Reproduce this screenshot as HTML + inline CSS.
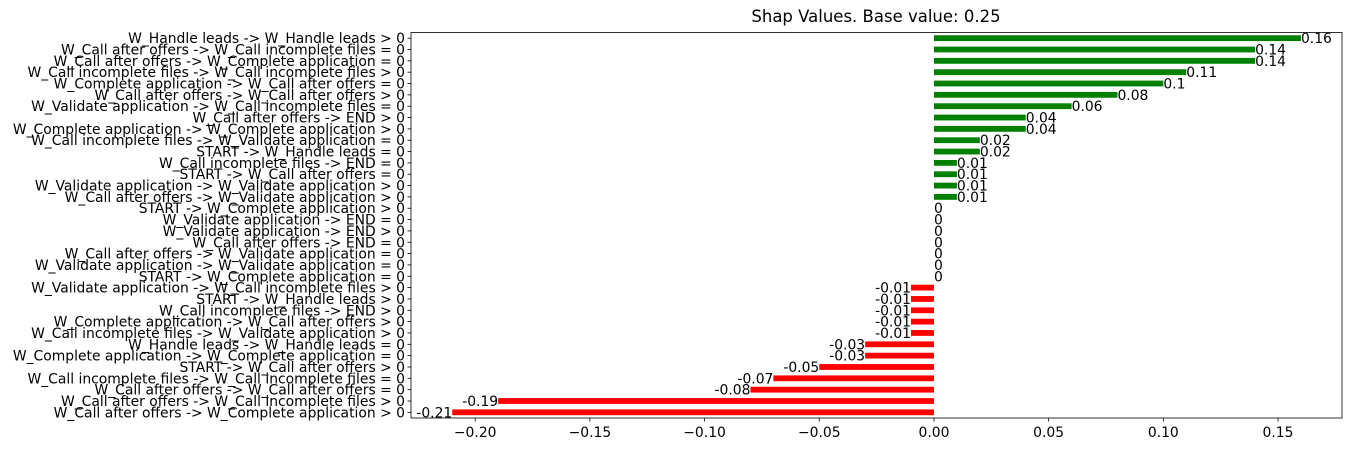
<!DOCTYPE html>
<html><head><meta charset="utf-8"><style>
body{margin:0;background:#fff;}
svg text{font-family:"DejaVu Sans","Liberation Sans",sans-serif;}
</style></head><body>
<svg id="chart" width="1352" height="451" xmlns="http://www.w3.org/2000/svg"></svg>
<script>
const labels=["W_Handle leads -> W_Handle leads > 0","W_Call after offers -> W_Call incomplete files = 0","W_Call after offers -> W_Complete application = 0","W_Call incomplete files -> W_Call incomplete files > 0","W_Complete application -> W_Call after offers = 0","W_Call after offers -> W_Call after offers > 0","W_Validate application -> W_Call incomplete files = 0","W_Call after offers -> END > 0","W_Complete application -> W_Complete application > 0","W_Call incomplete files -> W_Validate application = 0","START -> W_Handle leads = 0","W_Call incomplete files -> END = 0","START -> W_Call after offers = 0","W_Validate application -> W_Validate application > 0","W_Call after offers -> W_Validate application > 0","START -> W_Complete application > 0","W_Validate application -> END = 0","W_Validate application -> END > 0","W_Call after offers -> END = 0","W_Call after offers -> W_Validate application = 0","W_Validate application -> W_Validate application = 0","START -> W_Complete application = 0","W_Validate application -> W_Call incomplete files > 0","START -> W_Handle leads > 0","W_Call incomplete files -> END > 0","W_Complete application -> W_Call after offers > 0","W_Call incomplete files -> W_Validate application > 0","W_Handle leads -> W_Handle leads = 0","W_Complete application -> W_Complete application = 0","START -> W_Call after offers > 0","W_Call incomplete files -> W_Call incomplete files = 0","W_Call after offers -> W_Call after offers = 0","W_Call after offers -> W_Call incomplete files > 0","W_Call after offers -> W_Complete application > 0"];
const values=[0.16,0.14,0.14,0.11,0.1,0.08,0.06,0.04,0.04,0.02,0.02,0.01,0.01,0.01,0.01,0,0,0,0,0,0,0,-0.01,-0.01,-0.01,-0.01,-0.01,-0.03,-0.03,-0.05,-0.07,-0.08,-0.19,-0.21];
const ticks=[-0.2,-0.15,-0.1,-0.05,0,0.05,0.1,0.15];
const tickLabels=["−0.20","−0.15","−0.10","−0.05","0.00","0.05","0.10","0.15"];
const svg=document.getElementById('chart');
const NS="http://www.w3.org/2000/svg";
const L=411,R=1342,T=32.5,B=418;
const xMin=-0.228,xMax=0.1779;
const x=v=>L+(v-xMin)/(xMax-xMin)*(R-L);
const slot=(B-T)/labels.length;
const y=i=>T+slot*(i+0.5);
function mk(tag,attrs,txt){const e=document.createElementNS(NS,tag);for(const k in attrs)e.setAttribute(k,attrs[k]);if(txt!==undefined)e.textContent=txt;svg.appendChild(e);return e;}
let t=mk('text',{x:876,y:22,'font-size':16.5,'text-anchor':'middle'},'Shap Values. Base value: 0.25');


values.forEach((v,i)=>{
  const x0=x(0),x1=x(v);
  const r=mk('rect',{x:Math.min(x0,x1),y:y(i)-2.9,width:Math.abs(x1-x0),height:5.8,fill:v>=0?'#008000':'#ff0000'});
  
  
  const vl=mk('text',{x:x1,y:y(i)+5,'font-size':13.9,'text-anchor':v>=0?'start':'end'},String(v));
  
  
  const yl=mk('text',{x:L-6,y:y(i)+5,'font-size':13.9,'text-anchor':'end'},labels[i]);
  
  
  mk('line',{x1:L-3.5,x2:L,y1:y(i),y2:y(i),stroke:'#000','stroke-width':0.8});
});
ticks.forEach((v,i)=>{
  mk('line',{x1:x(v),x2:x(v),y1:B,y2:B+3.5,stroke:'#000','stroke-width':0.8});
  const tl=mk('text',{x:x(v),y:B+19,'font-size':13.9,'text-anchor':'middle'},tickLabels[i]);
  
  
});
const fr=mk('rect',{x:L,y:T,width:R-L,height:B-T,fill:'none',stroke:'#000','stroke-width':0.8});


</script>
</body></html>
